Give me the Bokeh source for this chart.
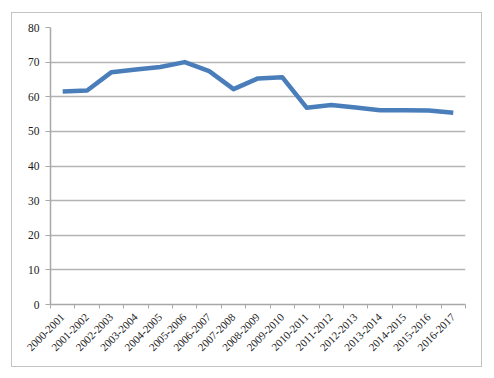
import math
from bokeh.plotting import figure
from bokeh.models import FixedTicker, Range1d, ColumnDataSource
from bokeh.embed import file_html
from bokeh.resources import INLINE

years = ["2000-2001", "2001-2002", "2002-2003", "2003-2004", "2004-2005", "2005-2006",
         "2006-2007", "2007-2008", "2008-2009", "2009-2010", "2010-2011", "2011-2012",
         "2012-2013", "2013-2014", "2014-2015", "2015-2016", "2016-2017"]
values = [61.5, 61.8, 67.1, 67.9, 68.6, 70.0, 67.4, 62.2, 65.3, 65.6, 56.8, 57.6,
          56.9, 56.1, 56.1, 56.0, 55.4]
y_ticks = [0, 10, 20, 30, 40, 50, 60, 70, 80]

n = len(years)
xs = [i + 0.5 for i in range(n)]
src = ColumnDataSource(data=dict(x=xs, y=values))

FONT = "Liberation Serif"
GRID = "#b4b4b4"
AXIS = "#a8a8a8"

p = figure(width=469, height=353, output_backend="svg", toolbar_location=None,
           x_range=Range1d(0, n), y_range=Range1d(0, 80),
           min_border_left=38, min_border_right=16, min_border_top=14, min_border_bottom=62)
p.styles = {"outline": "1.5px solid #c4c4c4", "margin-left": "12px", "margin-top": "13px"}
p.outline_line_color = None
p.background_fill_color = "white"

p.line("x", "y", source=src, line_color="#4a7ebb", line_width=4.5, line_join="round")

p.xgrid.grid_line_color = None
p.ygrid.grid_line_color = GRID
p.ygrid.grid_line_width = 1.5

p.yaxis.ticker = FixedTicker(ticks=y_ticks)
p.yaxis.axis_line_color = AXIS
p.yaxis.axis_line_width = 1.5
p.yaxis.major_tick_line_color = AXIS
p.yaxis.major_tick_out = 5
p.yaxis.major_tick_in = 0
p.yaxis.minor_tick_line_color = None
p.yaxis.major_label_standoff = 6
p.yaxis.major_label_text_font = FONT
p.yaxis.major_label_text_font_size = "11.5px"
p.yaxis.major_label_text_color = "#1a1a1a"

p.xaxis.ticker = FixedTicker(ticks=xs, minor_ticks=list(range(n + 1)))
p.xaxis.major_label_overrides = {x: lab for x, lab in zip(xs, years)}
p.xaxis.major_label_orientation = math.pi / 4
p.xaxis.axis_line_color = AXIS
p.xaxis.axis_line_width = 1.5
p.xaxis.major_tick_line_color = None
p.xaxis.major_tick_out = 0
p.xaxis.major_tick_in = 0
p.xaxis.minor_tick_line_color = AXIS
p.xaxis.minor_tick_out = 4
p.xaxis.minor_tick_in = 0
p.xaxis.major_label_standoff = 7
p.xaxis.major_label_text_font = FONT
p.xaxis.major_label_text_font_size = "11px"
p.xaxis.major_label_text_color = "#1a1a1a"

open("out.html", "w").write(file_html(p, INLINE))
